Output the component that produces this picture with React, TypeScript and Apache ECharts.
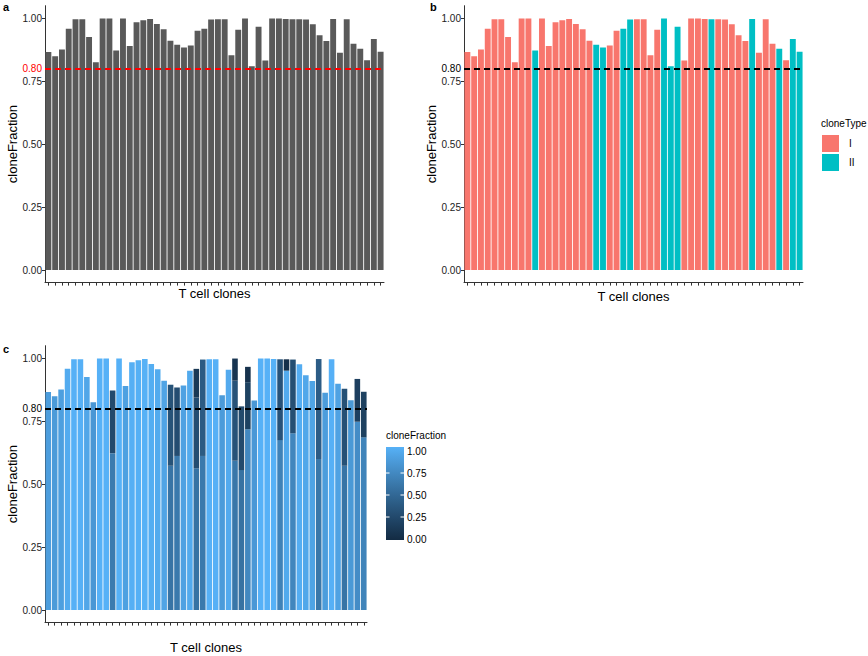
import React, { useEffect, useRef } from "react";
import * as echarts from "echarts";

// ---------------- data ----------------
const clones = [
  "C01", "C02", "C03", "C04", "C05", "C06", "C07", "C08", "C09", "C10",
  "C11", "C12", "C13", "C14", "C15", "C16", "C17", "C18", "C19", "C20",
  "C21", "C22", "C23", "C24", "C25", "C26", "C27", "C28", "C29", "C30",
  "C31", "C32", "C33", "C34", "C35", "C36", "C37", "C38", "C39", "C40",
  "C41", "C42", "C43", "C44", "C45", "C46", "C47", "C48", "C49", "C50",
];

const cloneFraction = [
  0.866, 0.849, 0.876, 0.958, 0.996, 0.996, 0.926, 0.825, 0.999, 0.999,
  0.872, 0.999, 0.89, 0.984, 0.992, 0.997, 0.977, 0.956, 0.911, 0.895,
  0.884, 0.892, 0.95, 0.958, 0.995, 0.996, 0.996, 0.853, 0.954, 0.999,
  0.809, 0.966, 0.832, 0.999, 0.999, 0.997, 0.996, 0.996, 0.995, 0.976,
  0.933, 0.91, 0.997, 0.863, 0.996, 0.899, 0.879, 0.833, 0.918, 0.867,
];

const cloneType = [
  "I", "I", "I", "I", "I", "I", "I", "I", "I", "I",
  "II", "I", "I", "I", "I", "I", "I", "I", "I", "II",
  "II", "I", "I", "II", "II", "I", "I", "I", "I", "II",
  "II", "II", "I", "I", "I", "I", "II", "I", "I", "I",
  "I", "I", "II", "I", "I", "I", "II", "I", "II", "II",
];

// panel c: per-clone segments (bottom, middle, top), null = no segment
const segBottom = [
  0.866, 0.849, 0.876, 0.958, 0.996, 0.996, 0.926, 0.825, 0.999, 0.999,
  0.623, 0.999, 0.89, 0.984, 0.992, 0.997, 0.977, 0.956, 0.911, 0.573,
  0.612, 0.892, 0.95, 0.563, 0.612, 0.996, 0.996, 0.853, 0.954, 0.593,
  0.556, 0.718, 0.832, 0.999, 0.999, 0.997, 0.675, 0.951, 0.702, 0.976,
  0.933, 0.91, 0.6, 0.863, 0.996, 0.899, 0.573, 0.833, 0.748, 0.686,
];
const segMiddle = [
  null, null, null, null, null, null, null, null, null, null,
  0.249, null, null, null, null, null, null, null, null, 0.322,
  0.272, null, null, 0.281, 0.383, null, null, null, null, 0.318,
  0.253, 0.187, null, null, null, null, 0.321, 0.045, 0.293, null,
  null, null, 0.397, null, null, null, 0.306, null, 0.17, 0.181,
];
const segTop = [
  null, null, null, null, null, null, null, null, null, null,
  null, null, null, null, null, null, null, null, null, null,
  null, null, null, 0.114, null, null, null, null, null, 0.088,
  null, 0.061, null, null, null, null, null, null, null, null,
  null, null, null, null, null, null, null, null, null, null,
];

const yTicks = [0, 0.25, 0.5, 0.75, 1];
const legendTicks = [0, 0.25, 0.5, 0.75, 1];
const threshold = 0.8;

// ---------------- colour scale (ggplot2 default gradient, Lab) ----------------
const LOW = "#132B43";
const HIGH = "#56B1F7";
const FONT = '"Liberation Sans", Arial, Helvetica, sans-serif';

function hexToRgb(h: string) {
  const n = parseInt(h.slice(1), 16);
  return [(n >> 16) & 255, (n >> 8) & 255, n & 255];
}
function toLin(c: number) {
  c /= 255;
  return c <= 0.04045 ? c / 12.92 : Math.pow((c + 0.055) / 1.055, 2.4);
}
function fromLin(c: number) {
  const v = c <= 0.0031308 ? 12.92 * c : 1.055 * Math.pow(c, 1 / 2.4) - 0.055;
  return Math.round(Math.max(0, Math.min(1, v)) * 255);
}
function rgbToLab(rgb: number[]) {
  const [r, g, b] = rgb.map(toLin);
  const X = (0.4124564 * r + 0.3575761 * g + 0.1804375 * b) / 0.95047;
  const Y = 0.2126729 * r + 0.7151522 * g + 0.072175 * b;
  const Z = (0.0193339 * r + 0.119192 * g + 0.9503041 * b) / 1.08883;
  const f = (t: number) => (t > 0.008856 ? Math.cbrt(t) : 7.787 * t + 16 / 116);
  const fx = f(X), fy = f(Y), fz = f(Z);
  return [116 * fy - 16, 500 * (fx - fy), 200 * (fy - fz)];
}
function labToHex(lab: number[]) {
  const fy = (lab[0] + 16) / 116;
  const fx = fy + lab[1] / 500;
  const fz = fy - lab[2] / 200;
  const inv = (f: number) => (f * f * f > 0.008856 ? f * f * f : (f - 16 / 116) / 7.787);
  const X = inv(fx) * 0.95047, Y = inv(fy), Z = inv(fz) * 1.08883;
  const r = 3.2404542 * X - 1.5371385 * Y - 0.4985314 * Z;
  const g = -0.969266 * X + 1.8760108 * Y + 0.041556 * Z;
  const b = 0.0556434 * X - 0.2040259 * Y + 1.0572252 * Z;
  return "#" + [r, g, b].map((c) => fromLin(c).toString(16).padStart(2, "0")).join("");
}
const labLow = rgbToLab(hexToRgb(LOW));
const labHigh = rgbToLab(hexToRgb(HIGH));
function fracColor(v: number) {
  const t = Math.max(0, Math.min(1, v));
  return labToHex(labLow.map((l, i) => l + (labHigh[i] - l) * t));
}

// ---------------- helpers ----------------
const AXIS_COLOR = "#333333";

function yAxisFor(gridIndex: number) {
  return {
    type: "value",
    gridIndex,
    min: -0.05,
    max: 1.05,
    axisLine: { show: true, lineStyle: { color: AXIS_COLOR, width: 1 } },
    axisTick: { show: true, length: 3, customValues: yTicks, lineStyle: { color: AXIS_COLOR } },
    axisLabel: {
      customValues: yTicks,
      formatter: (v: number) => Number(v).toFixed(2),
      fontSize: 10,
      color: "#222",
      margin: 3,
      fontFamily: FONT,
    },
    splitLine: { show: false },
    name: "cloneFraction",
    nameLocation: "middle",
    nameGap: 23,
    nameTextStyle: { fontSize: 13, color: "#000", fontFamily: FONT },
  };
}
function xAxisFor(gridIndex: number, nameGap: number) {
  return {
    type: "category",
    gridIndex,
    data: clones,
    boundaryGap: true,
    axisLine: { onZero: false, lineStyle: { color: AXIS_COLOR, width: 1 } },
    axisTick: { show: true, alignWithLabel: true, interval: 0, length: 3, lineStyle: { color: AXIS_COLOR } },
    axisLabel: { show: false, interval: 0 },
    splitLine: { show: false },
    name: "T cell clones",
    nameLocation: "middle",
    nameGap,
    nameTextStyle: { fontSize: 13, color: "#000", fontFamily: FONT, verticalAlign: "top" },
  };
}
function thresholdLine(color: string) {
  return {
    silent: true,
    symbol: "none",
    data: [{ yAxis: threshold }],
    lineStyle: { color, type: [6, 4], width: 2 },
    label: {
      show: true,
      position: "start",
      formatter: threshold.toFixed(2),
      color,
      fontSize: 10,
      distance: 3,
      fontFamily: FONT,
    },
    z: 10,
  };
}

const GAP = "13%";

export default function App() {
  const ref = useRef<HTMLDivElement>(null);

  useEffect(() => {
    if (!ref.current) return;
    const chart = echarts.init(ref.current, null, { renderer: "svg" });

    const legendBarTop = 447;
    const legendBarH = 93;
    const labelY = (v: number) => 539 - v * 88;
    const gradStops = [];
    for (let i = 0; i <= 10; i++) {
      gradStops.push({ offset: i / 10, color: fracColor(1 - i / 10) });
    }

    const graphic: any[] = [
      { type: "text", left: 3, top: 1, style: { text: "a", font: `bold 11px ${FONT}`, fill: "#000" } },
      { type: "text", left: 430, top: 1, style: { text: "b", font: `bold 11px ${FONT}`, fill: "#000" } },
      { type: "text", left: 3, top: 343, style: { text: "c", font: `bold 11px ${FONT}`, fill: "#000" } },
      { type: "text", left: 821, top: 118, style: { text: "cloneType", font: `10px ${FONT}`, fill: "#000" } },
      { type: "text", left: 386, top: 430, style: { text: "cloneFraction", font: `10px ${FONT}`, fill: "#000" } },
      {
        type: "rect",
        shape: { x: 386, y: legendBarTop, width: 18, height: legendBarH },
        style: {
          fill: new echarts.graphic.LinearGradient(0, 0, 0, 1, gradStops),
        },
      },
    ];
    legendTicks.forEach((v) => {
      const y = labelY(v);
      if (v > 0 && v < 1) {
        graphic.push({ type: "line", shape: { x1: 386, y1: y, x2: 389.5, y2: y }, style: { stroke: "#fff", lineWidth: 1 } });
        graphic.push({ type: "line", shape: { x1: 400.5, y1: y, x2: 404, y2: y }, style: { stroke: "#fff", lineWidth: 1 } });
      }
      graphic.push({
        type: "text",
        x: 407,
        y,
        style: { text: v.toFixed(2), font: `10px ${FONT}`, fill: "#000", textVerticalAlign: "middle" },
      });
    });

    const typeI = cloneFraction.map((v, i) => (cloneType[i] === "I" ? v : "-"));
    const typeII = cloneFraction.map((v, i) => (cloneType[i] === "II" ? v : "-"));
    const toData = (arr: (number | null)[]) => arr.map((v) => (v == null ? "-" : v));
    const colorFn = (p: any) => fracColor(Number(p.value));

    const option: any = {
      animation: false,
      backgroundColor: "#ffffff",
      textStyle: { fontFamily: FONT },
      grid: [
        { left: 45, width: 339, top: 5.7, height: 276.9 },
        { left: 464, width: 339, top: 5.7, height: 276.9 },
        { left: 45, width: 322, top: 345.7, height: 276.9 },
      ],
      xAxis: [xAxisFor(0, 4), xAxisFor(1, 7), xAxisFor(2, 18)],
      yAxis: [yAxisFor(0), yAxisFor(1), yAxisFor(2)],
      legend: {
        data: ["I", "II"],
        orient: "vertical",
        left: 822,
        top: 135,
        padding: 0,
        itemWidth: 17,
        itemHeight: 17,
        itemGap: 2,
        icon: "rect",
        selectedMode: false,
        textStyle: { fontSize: 10, color: "#000", fontFamily: FONT, padding: [0, 0, 0, 5] },
      },
      graphic,
      series: [
        {
          name: "all",
          type: "bar",
          xAxisIndex: 0,
          yAxisIndex: 0,
          data: cloneFraction,
          barCategoryGap: GAP,
          itemStyle: { color: "#595959" },
          markLine: thresholdLine("#ff0000"),
        },
        {
          name: "I",
          type: "bar",
          xAxisIndex: 1,
          yAxisIndex: 1,
          stack: "b",
          data: typeI,
          barCategoryGap: GAP,
          itemStyle: { color: "#F8766D" },
        },
        {
          name: "II",
          type: "bar",
          xAxisIndex: 1,
          yAxisIndex: 1,
          stack: "b",
          data: typeII,
          barCategoryGap: GAP,
          itemStyle: { color: "#00BFC4" },
          markLine: thresholdLine("#000000"),
        },
        {
          name: "segBottom",
          type: "bar",
          xAxisIndex: 2,
          yAxisIndex: 2,
          stack: "c",
          data: toData(segBottom),
          barCategoryGap: GAP,
          itemStyle: { color: colorFn },
        },
        {
          name: "segMiddle",
          type: "bar",
          xAxisIndex: 2,
          yAxisIndex: 2,
          stack: "c",
          data: toData(segMiddle),
          barCategoryGap: GAP,
          itemStyle: { color: colorFn },
        },
        {
          name: "segTop",
          type: "bar",
          xAxisIndex: 2,
          yAxisIndex: 2,
          stack: "c",
          data: toData(segTop),
          barCategoryGap: GAP,
          itemStyle: { color: colorFn },
          markLine: thresholdLine("#000000"),
        },
      ],
    };

    chart.setOption(option);
    return () => chart.dispose();
  }, []);

  return (
    <div
      ref={ref}
      style={{ position: "absolute", left: 0, top: 0, width: 868, height: 656, background: "#fff" }}
    />
  );
}
